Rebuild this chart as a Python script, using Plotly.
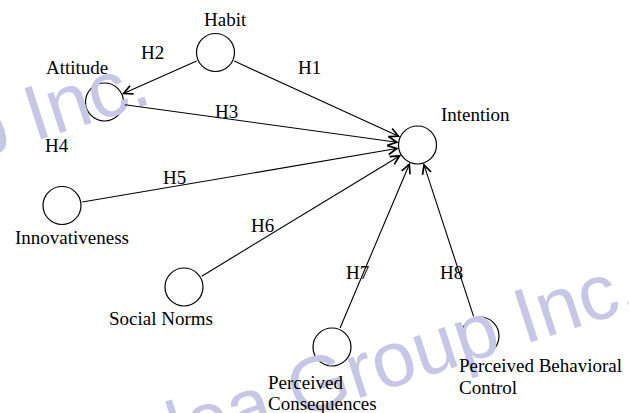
import plotly.graph_objects as go

W, H = 629, 413

# ---- data ----
node_names = ["Habit", "Attitude", "Intention", "Innovativeness", "Social Norms",
              "Perceived Consequences", "Perceived Behavioral Control"]
node_x = [215.5, 104.5, 417.5, 62, 184, 332, 480]
node_y = [52.5, 102, 145, 205.5, 287, 347, 336]

edge_source = ["Habit", "Habit", "Attitude", "Innovativeness", "Social Norms",
               "Perceived Consequences", "Perceived Behavioral Control"]
edge_target = ["Intention", "Attitude", "Intention", "Intention", "Intention",
               "Intention", "Intention"]

hyp_labels = ["H1", "H2", "H3", "H4", "H5", "H6", "H7", "H8"]
hyp_x = [309, 152, 226, 57, 174, 262, 357, 451]
hyp_y = [67, 52, 111, 145, 177, 225, 272, 272]

# node caption lines
caption_text = ["Habit", "Attitude", "Intention", "Innovativeness", "Social Norms",
                "Perceived", "Consequences", "Perceived Behavioral", "Control"]
caption_x = [225, 77, 475, 72, 161, 266, 266, 457, 457]
caption_y = [19, 67, 114, 237, 318, 382, 403, 365, 387]
caption_anchor = ["center", "center", "center", "center", "center",
                  "left", "left", "left", "left"]

watermark_text = "Idea Group Inc."
watermark_cx = [-110, 380]
watermark_cy = [160, 363]

# ---- figure ----
R = 19
SERIF = "Liberation Serif"
fig = go.Figure()

annotations = []
# watermark (drawn first, below labels)
for cx, cy in zip(watermark_cx, watermark_cy):
    annotations.append(dict(
        text=watermark_text, xref="paper", yref="paper",
        x=cx / W, y=1 - cy / H, xanchor="center", yanchor="middle",
        showarrow=False, textangle=-18,
        font=dict(family="Liberation Sans", size=78, color="#c6c6e6")))

idx = {n: i for i, n in enumerate(node_names)}
for s, t in zip(edge_source, edge_target):
    si, ti = idx[s], idx[t]
    annotations.append(dict(
        text="", x=node_x[ti], y=node_y[ti], ax=node_x[si], ay=node_y[si],
        xref="x", yref="y", axref="x", ayref="y",
        showarrow=True, arrowhead=5, arrowsize=1.6, arrowwidth=1.1,
        arrowcolor="black", standoff=R, startstandoff=R))

for t, x, y in zip(hyp_labels, hyp_x, hyp_y):
    annotations.append(dict(text=t, x=x, y=y, xref="x", yref="y", showarrow=False,
                            xanchor="center", yanchor="middle",
                            font=dict(family=SERIF, size=19, color="black")))

for t, x, y, a in zip(caption_text, caption_x, caption_y, caption_anchor):
    annotations.append(dict(text=t, x=x, y=y, xref="x", yref="y", showarrow=False,
                            xanchor=a, yanchor="middle",
                            font=dict(family=SERIF, size=19, color="black")))

fig.add_trace(go.Scatter(
    x=node_x, y=node_y, mode="markers", hoverinfo="text", text=node_names,
    marker=dict(symbol="circle", size=2 * R, color="rgba(255,255,255,0)",
                line=dict(color="black", width=1.2)),
    showlegend=False))

fig.update_layout(
    width=W, height=H, margin=dict(l=0, r=0, t=0, b=0),
    paper_bgcolor="white", plot_bgcolor="white",
    xaxis=dict(range=[0, W], visible=False, fixedrange=True),
    yaxis=dict(range=[H, 0], visible=False, fixedrange=True),
    annotations=annotations, showlegend=False)

fig.write_html("out.html", config={"displayModeBar": False},
               post_script="document.body.style.margin='0';document.body.style.overflow='hidden';")
